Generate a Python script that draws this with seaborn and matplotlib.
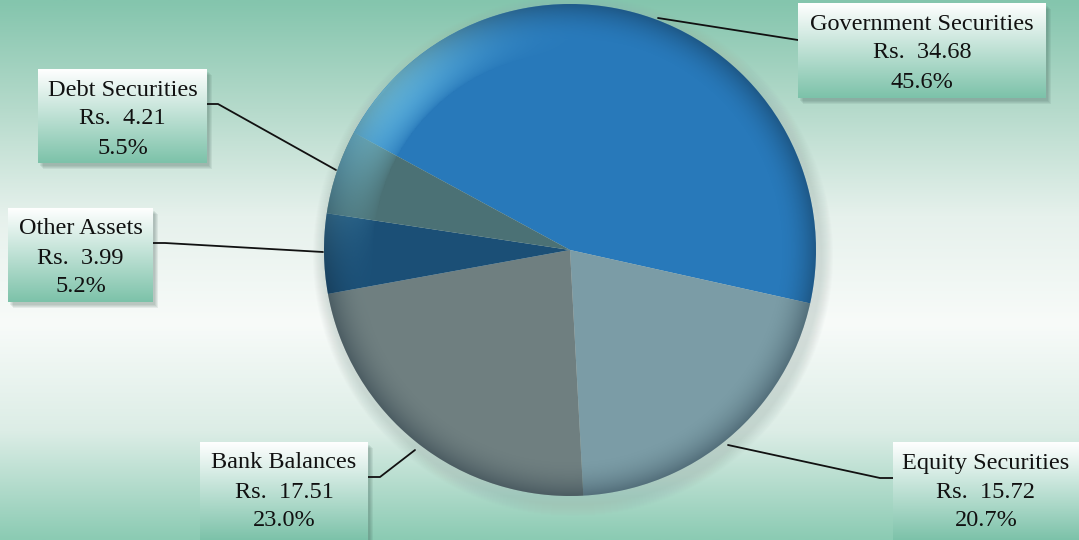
import numpy as np
import seaborn as sns
import matplotlib
matplotlib.use("Agg")
import matplotlib.pyplot as plt
from matplotlib.patches import Circle, Rectangle

# asset allocation data (clockwise from the top left)
categories = ["Government Securities", "Equity Securities", "Bank Balances", "Other Assets", "Debt Securities"]
amounts = [34.68, 15.72, 17.51, 3.99, 4.21]
percents = ["45.6%", "20.7%", "23.0%", "5.2%", "5.5%"]
slice_colors = ["#2879ba", "#7b9ca6", "#6f7f80", "#1b4f76", "#4b7175"]

W, H = 1079, 540


def gradient_image(top, bottom, n=256):
    cmap = sns.blend_palette([top, bottom], n_colors=n, as_cmap=True)
    return cmap, np.linspace(0, 1, n).reshape(-1, 1)


def main():
    sns.set_style("white")
    plt.rcParams["font.family"] = "serif"
    plt.rcParams["font.serif"] = ["Liberation Serif", "Times New Roman", "DejaVu Serif"]

    fig = plt.figure(figsize=(W / 100, H / 100), dpi=100)
    ax = fig.add_axes([0, 0, 1, 1])

    # background: green at top, almost white lower down, green again at the bottom
    bg = sns.blend_palette(["#84c5ad", "#b5dacb", "#e6f1ec", "#f8fbf9", "#dcede6", "#8bcbb3"],
                           n_colors=256, as_cmap=True)
    ax.imshow(np.linspace(0, 1, 256).reshape(-1, 1), cmap=bg, aspect="auto",
              extent=(0, W, 0, H), origin="upper", zorder=0)

    cx, cy, r = 570, H - 250, 246

    # soft shadow behind the pie
    for i in range(12):
        ax.add_patch(Circle((cx + 3, cy - 6), r + 14 - i, color="#9fb3ad", alpha=0.035, lw=0, zorder=1))

    wedges, _ = ax.pie(amounts, colors=slice_colors, startangle=151.5, counterclock=False,
                       center=(cx, cy), radius=r, frame=True,
                       wedgeprops=dict(linewidth=0, antialiased=True))
    for w in wedges:
        w.set_zorder(2)

    # spherical shading: darker rim, light edge at the top left
    n = 400
    xs = np.linspace(-1, 1, n)
    X, Y = np.meshgrid(xs, xs[::-1])
    R = np.sqrt(X ** 2 + Y ** 2)
    shade = np.zeros((n, n, 4))
    dark = np.clip((R - 0.85) / 0.15, 0, 1) ** 2 * 0.35
    ang = np.arctan2(Y, X)
    light = np.clip((R - 0.8) / 0.2, 0, 1) ** 0.6 * np.clip(np.cos(ang - np.deg2rad(140)), 0, 1) ** 8 * 0.7
    alpha = np.clip(dark + light, 0, 1)
    rgb = (dark[..., None] * np.array([0.05, 0.12, 0.18]) + light[..., None] * np.array([0.55, 0.9, 1.0]))
    rgb = rgb / np.maximum(alpha[..., None], 1e-6)
    shade[..., :3] = np.clip(rgb, 0, 1)
    shade[..., 3] = alpha
    im = ax.imshow(shade, extent=(cx - r, cx + r, cy - r, cy + r), origin="upper", zorder=3,
                   interpolation="bilinear")
    im.set_clip_path(Circle((cx, cy), r, transform=ax.transData))

    # label boxes: (left, top, right, bottom) in pixels from the top left
    boxes = [
        (798, 3, 1046, 98),
        (893, 442, 1079, 540),
        (200, 442, 368, 540),
        (8, 208, 153, 302),
        (38, 69, 207, 163),
    ]
    leaders = [
        [(798, 40), (658, 18)],
        [(893, 478), (880, 478), (728, 445)],
        [(368, 477), (380, 477), (415, 450)],
        [(153, 243), (165, 243), (323, 252)],
        [(207, 104), (218, 104), (336, 170)],
    ]
    box_cmap, grad = gradient_image("#ffffff", "#7cc2a9")

    for i, (x0, y0, x1, y1) in enumerate(boxes):
        # drop shadow
        for k in range(4):
            ax.add_patch(Rectangle((x0 + 2 + k, H - y1 - 3 - k), x1 - x0, y1 - y0,
                                   color="#3d5a52", alpha=0.09, lw=0, zorder=4))
        ax.imshow(grad, cmap=box_cmap, aspect="auto", extent=(x0, x1, H - y1, H - y0),
                  origin="upper", zorder=5)
        xc = (x0 + x1) / 2
        lines = [categories[i], f"Rs.  {amounts[i]:.2f}", percents[i]]
        for j, t in enumerate(lines):
            ax.text(xc, H - (y0 + 21 + 29 * j), t, ha="center", va="center",
                    fontsize=17.5, color="#111111", zorder=6)

        pts = leaders[i]
        ax.plot([p[0] for p in pts], [H - p[1] for p in pts], color="#111111", lw=1.3, zorder=4)

    ax.set_xlim(0, W)
    ax.set_ylim(0, H)
    ax.set_aspect("auto")
    ax.axis("off")

    fig.savefig("out.png", dpi=100)


if __name__ == "__main__":
    main()
